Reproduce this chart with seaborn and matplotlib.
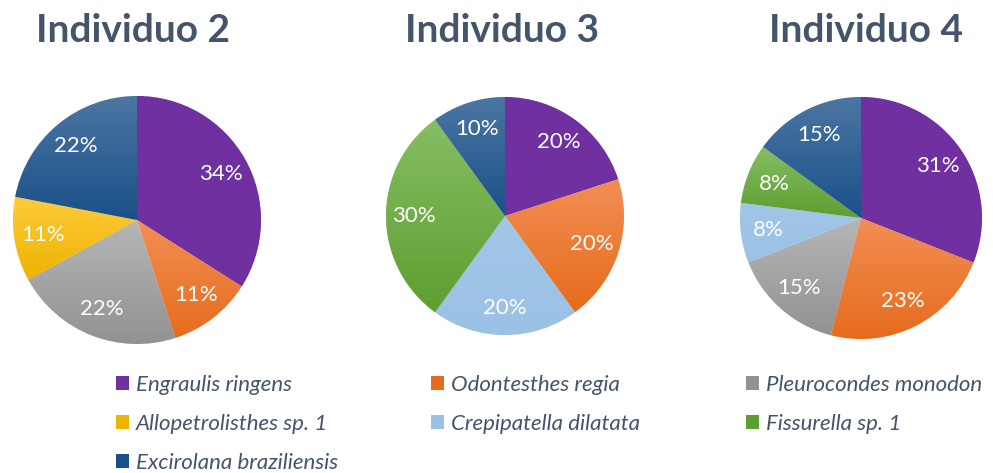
import numpy as np
import matplotlib
matplotlib.use("Agg")
import matplotlib.pyplot as plt
from matplotlib.colors import LinearSegmentedColormap
from matplotlib.patches import Patch
import seaborn as sns

# ────────────────────────────────────────────────────────────────
# Data
# ────────────────────────────────────────────────────────────────
SPECIES = [
    "Engraulis ringens",
    "Odontesthes regia",
    "Pleurocondes monodon",
    "Allopetrolisthes sp. 1",
    "Crepipatella dilatata",
    "Fissurella sp. 1",
    "Excirolana braziliensis",
]

TITLES = ["Individuo 2", "Individuo 3", "Individuo 4"]

IND2_SPECIES = ["Engraulis ringens", "Odontesthes regia", "Pleurocondes monodon",
                "Allopetrolisthes sp. 1", "Excirolana braziliensis"]
IND2_VALUES = [34, 11, 22, 11, 22]

IND3_SPECIES = ["Engraulis ringens", "Odontesthes regia", "Crepipatella dilatata",
                "Fissurella sp. 1", "Excirolana braziliensis"]
IND3_VALUES = [20, 20, 20, 30, 10]

IND4_SPECIES = ["Engraulis ringens", "Odontesthes regia", "Pleurocondes monodon",
                "Crepipatella dilatata", "Fissurella sp. 1", "Excirolana braziliensis"]
IND4_VALUES = [31, 23, 15, 8, 8, 15]

# top / bottom colour of each wedge's vertical gradient
GRADIENTS = {
    "Engraulis ringens": ("#7030A0", "#7030A0"),
    "Odontesthes regia": ("#F28E55", "#E66C1C"),
    "Pleurocondes monodon": ("#B6B6B6", "#929292"),
    "Allopetrolisthes sp. 1": ("#FFCB3A", "#ECB300"),
    "Crepipatella dilatata": ("#A2C6E8", "#9BC1E4"),
    "Fissurella sp. 1": ("#86BE63", "#5E9E31"),
    "Excirolana braziliensis": ("#4C76A2", "#1A5089"),
}

TEXT_COLOR = "#44546A"

sns.set_theme(style="white")
plt.rcParams["font.family"] = ["Lato", "DejaVu Sans"]

W, H = 993, 473
fig = plt.figure(figsize=(W / 100, H / 100), dpi=100)

# pie centre / radius in pixels (from top-left)
PIES = [
    (137, 220, 124),
    (505, 216, 119),
    (861, 218, 121),
]
TITLE_X = [133, 502, 866]

series = [(IND2_SPECIES, IND2_VALUES), (IND3_SPECIES, IND3_VALUES),
          (IND4_SPECIES, IND4_VALUES)]

for (cx, cy, r), (names, vals), title, tx in zip(PIES, series, TITLES, TITLE_X):
    ax = fig.add_axes([(cx - r) / W, (H - cy - r) / H, 2 * r / W, 2 * r / H])
    wedges, texts, autotexts = ax.pie(
        vals,
        colors=[GRADIENTS[n][0] for n in names],
        startangle=90,
        counterclock=False,
        autopct=lambda p: f"{p:.0f}%",
        pctdistance=0.77,
        wedgeprops=dict(edgecolor="white", linewidth=0.4),
        textprops=dict(color="white", fontsize=16),
    )
    for w, n in zip(wedges, names):
        top, bot = GRADIENTS[n]
        ext = w.get_path().get_extents()
        cmap = LinearSegmentedColormap.from_list(n, [top, bot])
        grad = np.linspace(0, 1, 256).reshape(-1, 1)
        im = ax.imshow(grad, cmap=cmap, aspect="auto",
                       extent=[ext.x0, ext.x1, ext.y0, ext.y1],
                       origin="upper", zorder=1.5)
        im.set_clip_path(w)
    for t in autotexts:
        t.set_zorder(4)
    ax.set_xlim(-1, 1)
    ax.set_ylim(-1, 1)
    ax.set_aspect("equal")
    ax.axis("off")

    fig.text(tx / W, 1 - 31 / H, title, ha="center", va="center",
             fontsize=28, fontweight="bold", color=TEXT_COLOR)

# ────────────────────────────────────────────────────────────────
# Legend: three columns, filled row-wise
# ────────────────────────────────────────────────────────────────
LEG_X = [116, 431, 746]
for col, x in enumerate(LEG_X):
    items = SPECIES[col::3]
    handles = [Patch(facecolor=GRADIENTS[s][1], edgecolor="none") for s in items]
    leg = fig.legend(handles, items, loc="upper left",
                     bbox_to_anchor=(x / W, 1 - 375 / H),
                     frameon=False, handlelength=0.6, handleheight=0.6,
                     handletextpad=0.3, labelspacing=0.85,
                     borderaxespad=0, borderpad=0,
                     prop=dict(size=16, style="italic"))
    for t in leg.get_texts():
        t.set_color(TEXT_COLOR)

fig.savefig("out.png", dpi=100)
